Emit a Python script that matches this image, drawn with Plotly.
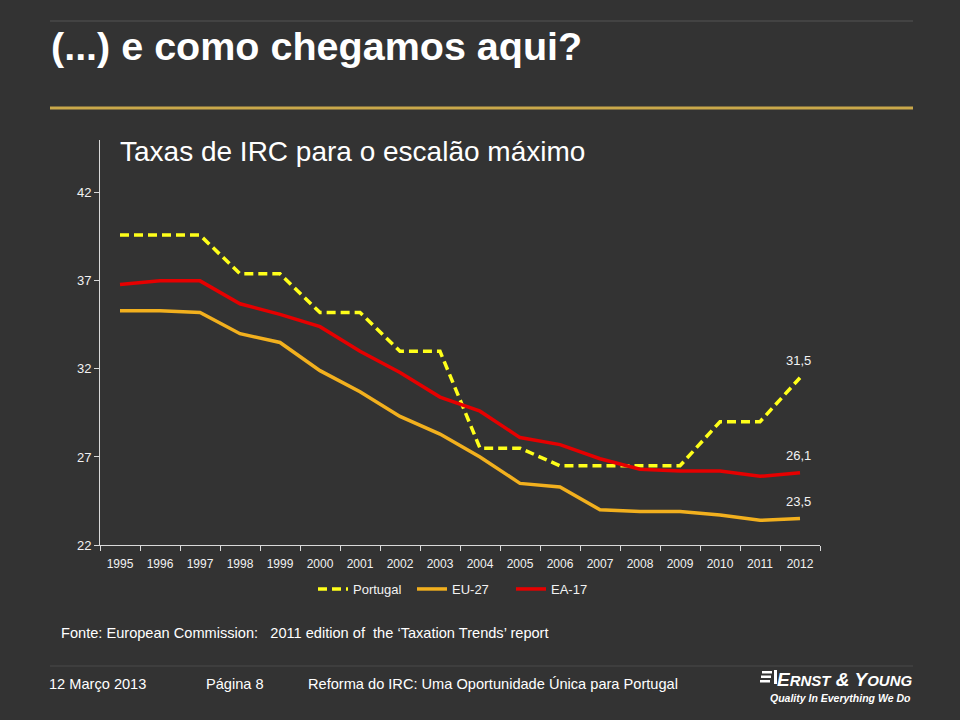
import plotly.graph_objects as go

# ---------------- data ----------------
years = ["1995", "1996", "1997", "1998", "1999", "2000", "2001", "2002", "2003",
         "2004", "2005", "2006", "2007", "2008", "2009", "2010", "2011", "2012"]
portugal = [39.6, 39.6, 39.6, 37.4, 37.4, 35.2, 35.2, 33.0, 33.0,
            27.5, 27.5, 26.5, 26.5, 26.5, 26.5, 29.0, 29.0, 31.5]
eu27 = [35.3, 35.3, 35.2, 34.0, 33.5, 31.9, 30.7, 29.3, 28.3,
        27.0, 25.5, 25.3, 24.0, 23.9, 23.9, 23.7, 23.4, 23.5]
ea17 = [36.8, 37.0, 37.0, 35.7, 35.1, 34.4, 33.0, 31.8, 30.4,
        29.6, 28.1, 27.7, 26.9, 26.3, 26.2, 26.2, 25.9, 26.1]
y_ticks = [22, 27, 32, 37, 42]

BG = "#333333"
FONT = "Liberation Sans, Arial, sans-serif"

W, H = 960, 720
L, R, T, B = 100, 140, 140, 175
PW, PH = W - L - R, H - T - B


def px(x):
    return (x - L) / PW


def py(y):
    return (H - B - y) / PH


fig = go.Figure()
fig.add_trace(go.Scatter(x=years, y=portugal, name="Portugal", mode="lines",
                         line=dict(color="#FFFF1A", width=3.5, dash="9px,5px")))
fig.add_trace(go.Scatter(x=years, y=eu27, name="EU-27", mode="lines",
                         line=dict(color="#F2B01E", width=3.5)))
fig.add_trace(go.Scatter(x=years, y=ea17, name="EA-17", mode="lines",
                         line=dict(color="#E60000", width=3.5)))

ann = []
# end labels
last = len(years) - 1
for series in (portugal, ea17, eu27):
    ann.append(dict(x=last, y=series[-1], xref="x", yref="y",
                    text=f"{series[-1]:.1f}".replace(".", ","),
                    showarrow=False, yshift=17, xshift=-2,
                    font=dict(family=FONT, size=13, color="#F2F2F2")))
# main title
ann.append(dict(x=px(49), y=py(46), xref="paper", yref="paper", xanchor="left", yanchor="middle",
                text="(...) e como chegamos aqui?", showarrow=False,
                font=dict(family=FONT, size=39.5, color="white", weight="bold")))
# chart title
ann.append(dict(x=px(118), y=py(151), xref="paper", yref="paper", xanchor="left", yanchor="middle",
                text="Taxas de IRC para o escalão máximo", showarrow=False,
                font=dict(family=FONT, size=28, color="white")))
# source
ann.append(dict(x=px(59), y=py(633), xref="paper", yref="paper", xanchor="left", yanchor="middle",
                text="Fonte: European Commission:   2011 edition of  the ‘Taxation Trends’ report",
                showarrow=False, font=dict(family=FONT, size=14.6, color="white")))
# footer
for xx, txt in ((47, "12 Março 2013"), (204, "Página 8"),
                (306, "Reforma do IRC: Uma Oportunidade Única para Portugal")):
    ann.append(dict(x=px(xx), y=py(684), xref="paper", yref="paper", xanchor="left", yanchor="middle",
                    text=txt, showarrow=False, font=dict(family=FONT, size=14.6, color="white")))
# logo text
ann.append(dict(x=px(914), y=py(679), xref="paper", yref="paper", xanchor="right", yanchor="middle",
                text="E<span style='font-size:15px'>RNST</span> &amp; Y<span style='font-size:15px'>OUNG</span>",
                showarrow=False,
                font=dict(family=FONT, size=19, color="white", style="italic", weight="bold")))
ann.append(dict(x=px(913), y=py(698), xref="paper", yref="paper", xanchor="right", yanchor="middle",
                text="Quality In Everything We Do", showarrow=False,
                font=dict(family=FONT, size=10.5, color="white",
                          style="italic", weight="bold")))

shapes = [
    dict(type="line", xref="paper", yref="paper", x0=px(50), x1=px(913), y0=py(21), y1=py(21),
         line=dict(color="#555555", width=1)),
    dict(type="line", xref="paper", yref="paper", x0=px(50), x1=px(913), y0=py(108), y1=py(108),
         line=dict(color="#C9A84A", width=3)),
    dict(type="line", xref="paper", yref="paper", x0=px(50), x1=px(913), y0=py(666), y1=py(666),
         line=dict(color="#4A4A4A", width=1)),
]
# logo mark (three slanted bars + vertical)
for k in range(3):
    yy = 671 + k * 4.5
    shapes.append(dict(type="rect", xref="paper", yref="paper", x0=px(762 - k), x1=px(772 - k),
                       y0=py(yy), y1=py(yy + 2.5), fillcolor="white", line=dict(width=0)))
shapes.append(dict(type="rect", xref="paper", yref="paper", x0=px(774), x1=px(777),
                   y0=py(670), y1=py(684), fillcolor="white", line=dict(width=0)))

fig.update_layout(
    width=W, height=H,
    paper_bgcolor=BG, plot_bgcolor=BG,
    margin=dict(l=L, r=R, t=T, b=B, autoexpand=False),
    font=dict(family=FONT, size=12, color="#F2F2F2"),
    showlegend=True,
    legend=dict(orientation="h", xref="paper", yref="paper",
                x=px(313), y=py(589), xanchor="left", yanchor="middle",
                font=dict(family=FONT, size=13, color="#F2F2F2"), bgcolor="rgba(0,0,0,0)",
                entrywidth=54, itemwidth=30),
    annotations=ann,
    shapes=shapes,
)
fig.update_xaxes(type="category", range=[-0.5, len(years) - 0.5],
                 tickson="boundaries", ticks="outside", ticklen=5,
                 tickcolor="#D9D9D9", showline=True, linecolor="#D9D9D9", linewidth=1,
                 showgrid=False, zeroline=False, tickangle=0, ticklabelstandoff=8,
                 tickfont=dict(size=12, color="#F2F2F2"))
fig.update_yaxes(range=[22, 45], tickvals=y_ticks, ticks="outside", ticklen=5,
                 tickcolor="#D9D9D9", showline=True, linecolor="#D9D9D9", linewidth=1,
                 showgrid=False, zeroline=False, tickfont=dict(size=13, color="#F2F2F2"))

fig.write_html("out.html", config={"displayModeBar": False},
               post_script="document.body.style.margin='0';")
